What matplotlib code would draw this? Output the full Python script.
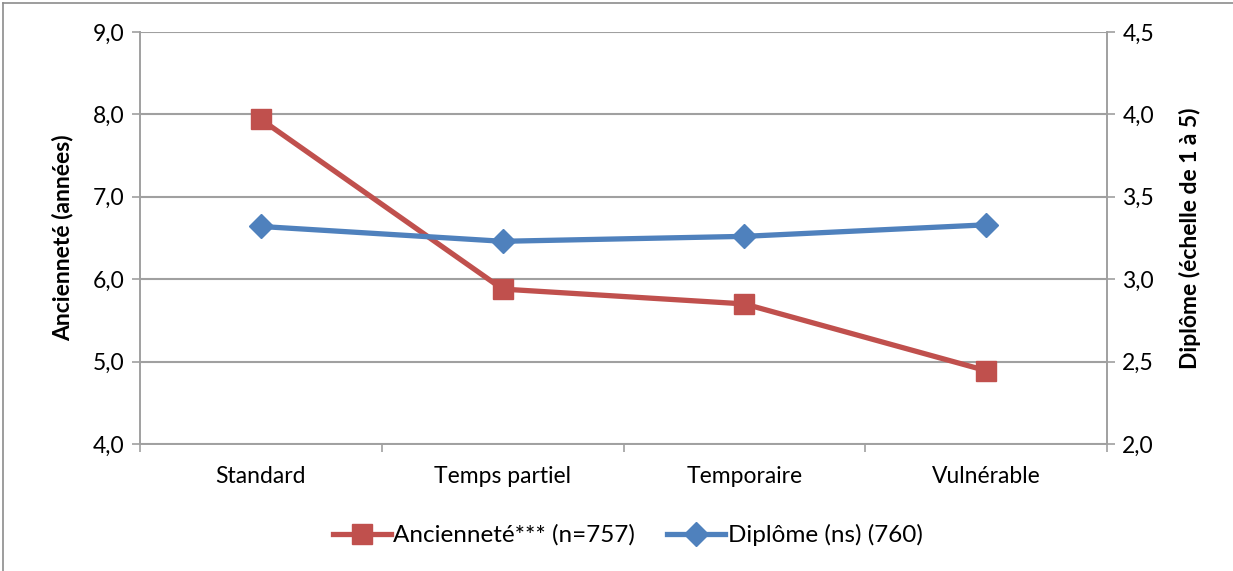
import matplotlib
matplotlib.use("Agg")
import matplotlib.pyplot as plt
from matplotlib.lines import Line2D
from matplotlib.ticker import FuncFormatter, FixedLocator

plt.rcParams['font.family'] = ['Lato', 'DejaVu Sans']

categories = ["Standard", "Temps partiel", "Temporaire", "Vulnérable"]
anciennete = [7.94, 5.88, 5.70, 4.89]
diplome = [3.32, 3.23, 3.26, 3.33]
label_anc = "Ancienneté*** (n=757)"
label_dip = "Diplôme (ns) (760)"

RED = "#C0504D"
BLUE = "#4F81BD"
GRID = "#A0A0A0"
FS = 16.5

fig = plt.figure(figsize=(12.33, 5.71), dpi=100)
ax = fig.add_axes([140/1233, 1-444/571, (1107-140)/1233, (444-32)/571])
ax2 = ax.twinx()

x = list(range(len(categories)))
ax.plot(x, anciennete, color=RED, lw=3.8, marker="s", ms=14, zorder=3)
ax2.plot(x, diplome, color=BLUE, lw=3.8, marker="D", ms=12, zorder=3)

ax.set_xlim(-0.5, len(categories)-0.5)
ax.set_ylim(4.0, 9.0)
ax2.set_ylim(2.0, 4.5)
ax.set_yticks([4, 5, 6, 7, 8, 9])
ax2.set_yticks([2.0, 2.5, 3.0, 3.5, 4.0, 4.5])
comma = FuncFormatter(lambda v, p: ("%.1f" % v).replace(".", ","))
ax.yaxis.set_major_formatter(comma)
ax2.yaxis.set_major_formatter(comma)
ax.yaxis.grid(True, color=GRID, lw=1.5)
ax.set_axisbelow(True)

ax.set_xticks(x)
ax.set_xticklabels(categories)
ax.xaxis.set_minor_locator(FixedLocator([i - 0.5 for i in range(len(categories)+1)]))
ax.tick_params(axis="x", which="major", length=0, pad=16, labelsize=FS)
ax.tick_params(axis="x", which="minor", length=6, color=GRID, width=1.2)
ax.tick_params(axis="y", length=6, color=GRID, width=1.2, labelsize=FS, pad=5)
ax2.tick_params(axis="y", length=6, color=GRID, width=1.2, labelsize=FS, pad=5)

for a in (ax, ax2):
    a.spines["top"].set_visible(False)
    for s in ("left", "right", "bottom"):
        a.spines[s].set_color(GRID)
        a.spines[s].set_linewidth(1.2)

ax.set_ylabel("Ancienneté (années)", fontsize=FS, fontweight="bold", labelpad=14)
ax2.set_ylabel("Diplôme (échelle de 1 à 5)", fontsize=FS, fontweight="bold",
               rotation=90, labelpad=18)

handles = [Line2D([], [], color=RED, lw=3.8, marker="s", ms=14),
           Line2D([], [], color=BLUE, lw=3.8, marker="D", ms=12)]
fig.legend(handles, [label_anc, label_dip], loc="center", bbox_to_anchor=(0.509, 1-535/571),
           ncol=2, frameon=False, fontsize=17.5, handlelength=2.4, handletextpad=0.1,
           columnspacing=1.3)

# chart area frame
fig.add_artist(Line2D([3/1233, 3/1233], [0, 1-3/571], color="#8C8C8C", lw=1.2,
                      transform=fig.transFigure))
fig.add_artist(Line2D([3/1233, 1], [1-3/571, 1-3/571], color="#8C8C8C", lw=1.2,
                      transform=fig.transFigure))

fig.savefig("out.png", dpi=100)
